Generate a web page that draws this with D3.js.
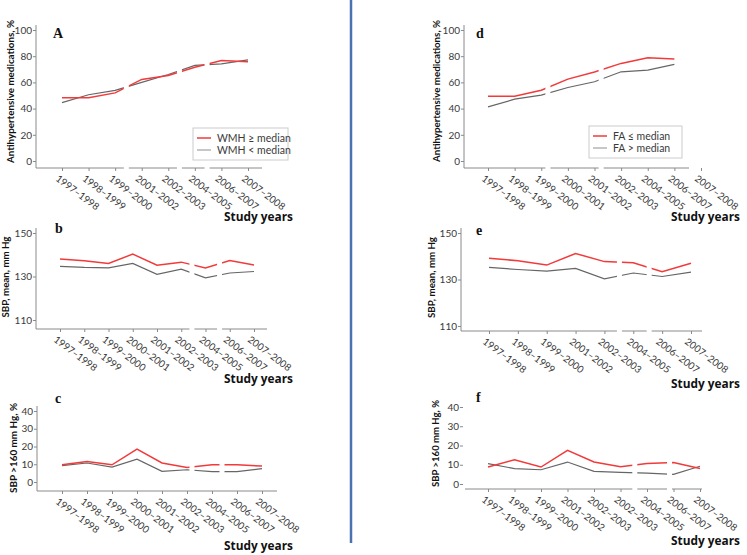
<!DOCTYPE html>
<html><head><meta charset="utf-8">
<script src="https://cdn.jsdelivr.net/npm/d3@7/dist/d3.min.js"></script>
<style>body{margin:0;background:#fff}svg{display:block}</style>
</head><body>
<svg id="chart" width="747" height="555"></svg>
<script>
// ---------- DATA ----------
const catsA = ["1997–1998","1998–1999","1999–2000","2001–2002","2002–2003","2004–2005","2006–2007","2007–2008"];
const wmhHighMeds = [48.2, 48.2, 52.0, 62.3, 65.3, 71.6, 76.7, 75.7];
const wmhLowMeds  = [44.6, 50.6, 53.9, 60.0, 66.0, 73.0, 74.2, 77.2];

const catsB = ["1997–1998","1998–1999","1999–2000","2000–2001","2001–2002","2002–2003","2004–2005","2006–2007","2007–2008"];
const wmhHighSbp = [138.0, 137.2, 136.0, 140.3, 135.2, 136.6, 133.9, 137.3, 135.3];
const wmhLowSbp  = [134.7, 134.2, 134.0, 136.0, 131.0, 133.4, 129.4, 131.6, 132.3];

const catsC = ["1997–1998","1998–1999","1999–2000","2000–2001","2001–2002","2002–2003","2004–2005","2006–2007","2007–2008"];
const wmhHighSbp160 = [9.7, 11.6, 9.7, 18.5, 10.7, 8.2, 9.7, 9.7, 9.0];
const wmhLowSbp160  = [9.2, 10.7, 8.4, 12.9, 6.0, 6.9, 5.8, 5.8, 7.5];

const catsD = ["1997–1998","1998–1999","1999–2000","2000–2001","2001–2002","2002–2003","2004–2005","2006–2007","2007–2008"];
const faLowMeds  = [49.5, 49.5, 54.0, 62.5, 68.0, 74.5, 78.8, 77.8, null];
const faHighMeds = [41.3, 47.2, 50.3, 56.1, 60.5, 68.1, 69.4, 73.7, null];

const catsE = ["1997–1998","1998–1999","1999–2000","2001–2002","2002–2003","2004–2005","2006–2007","2007–2008"];
const faLowSbp  = [139.1, 138.1, 136.2, 141.2, 137.7, 137.2, 133.3, 137.0];
const faHighSbp = [135.2, 134.3, 133.6, 134.8, 130.3, 132.8, 131.3, 133.2];

const catsF = ["1997–1998","1998–1999","1999–2000","2001–2002","2002–2003","2002–2003","2004–2005","2006–2007","2007–2008"];
const faLowSbp160  = [8.8, 12.6, 8.8, 17.5, 11.4, 9.0, 10.7, 11.2, 8.0];
const faHighSbp160 = [10.6, 8.0, 7.4, 11.4, 6.6, 6.0, 5.7, 5.0, 9.2];

const medTicks = [0, 20, 40, 60, 80, 100];
const sbpTicks = [110, 130, 150];
const sbp160Ticks = [0, 10, 20, 30, 40];

const yLabelMeds = "Antihypertensive medications, %";
const yLabelSbp = "SBP, mean, mm Hg";
const yLabelSbp160 = "SBP >160 mm Hg, %";
const xTitle = "Study years";
const legendWmh = ["WMH ≥ median", "WMH  < median"];
const legendFa = ["FA ≤ median", "FA > median"];

// ---------- LAYOUT ----------
const RED = "#f23a3a", GRAY = "#666666", AX = "#8a8a8a", TXT = "#3a3a3a";
const FONT = "Lato, 'Open Sans', sans-serif";

const panels = [
  {letter:"A", cats:catsA, red:wmhHighMeds, gray:wmhLowMeds, dom:[0,100], ticks:medTicks, yl:yLabelMeds,
   yTop:30, yBot:161, axisY:168, ax0:36, ax1:262, x0:62, x1:248, breaks:[[2,0.42],[4,0.42],[5,0.46]], axisGaps:true,
   lp:[53,38], ylp:[14,91.5,143], st:[293,221], yLine:true, legend:{names:legendWmh, x:193, y:128, w:95, h:32}},
  {letter:"b", cats:catsB, red:wmhHighSbp, gray:wmhLowSbp, dom:[110,150], ticks:sbpTicks, yl:yLabelSbp,
   yTop:233, yBot:320, axisY:329, ax0:36, ax1:267, x0:60, x1:254, breaks:[[5,0.44],[6,0.58]], axisGaps:true,
   lp:[55,233], ylp:[9,277,81], st:[293,383], yLine:true},
  {letter:"c", cats:catsC, red:wmhHighSbp160, gray:wmhLowSbp160, dom:[0,40], ticks:sbp160Ticks, yl:yLabelSbp160,
   yTop:411, yBot:482, axisY:491, ax0:37, ax1:277, x0:62, x1:262, breaks:[[5,0.2],[6,0.4]], axisGaps:false,
   lp:[55,403], ylp:[17,448,90], st:[293,550], yLine:true},
  {letter:"d", cats:catsD, red:faLowMeds, gray:faHighMeds, dom:[0,100], ticks:medTicks, yl:yLabelMeds,
   yTop:30, yBot:161, axisY:168, ax0:464, ax1:689, x0:488, x1:701, breaks:[[2,0.25],[4,0.25]], axisGaps:true,
   lp:[476,38], ylp:[440,91,142], st:[740,221], yLine:true, legend:{names:legendFa, x:589, y:126, w:93, h:32}},
  {letter:"e", cats:catsE, red:faLowSbp, gray:faHighSbp, dom:[110,150], ticks:sbpTicks, yl:yLabelSbp,
   yTop:233, yBot:326, axisY:331, ax0:461, ax1:702, x0:489, x1:691, breaks:[[4,0.52],[5,0.55]], axisGaps:true,
   lp:[476,235], ylp:[435,277.5,81], st:[740,388], yLine:true},
  {letter:"f", cats:catsF, red:faLowSbp160, gray:faHighSbp160, dom:[0,40], ticks:sbp160Ticks, yl:yLabelSbp160,
   yTop:407, yBot:484, axisY:489, ax0:465, ax1:702, x0:488, x1:700, breaks:[[5,0.54],[6,0.85]], axisGaps:true,
   lp:[476,402], ylp:[439,443.5,87], st:[740,545], yLine:false, yAxisX:463}
];

const svg = d3.select("#chart");

// divider
svg.append("line").attr("x1",351).attr("x2",351).attr("y1",0).attr("y2",543)
  .attr("stroke","#4a72b0").attr("stroke-width",2.5);

panels.forEach(p => {
  const g = svg.append("g");
  const n = p.cats.length;
  const x = d3.scaleLinear().domain([0, n-1]).range([p.x0, p.x1]);
  const y = d3.scaleLinear().domain(p.dom).range([p.yBot, p.yTop]);
  const yAxX = p.yAxisX ?? p.ax0;

  // x axis baseline
  g.append("line").attr("x1",p.ax0).attr("x2",p.ax1).attr("y1",p.axisY).attr("y2",p.axisY)
    .attr("stroke",AX).attr("stroke-width",1);
  // y axis line
  if (p.yLine) g.append("line").attr("x1",yAxX).attr("x2",yAxX).attr("y1",p.yTop-5).attr("y2",p.axisY)
    .attr("stroke",AX).attr("stroke-width",1);

  // y axis ticks
  const ya = g.append("g").attr("transform",`translate(${yAxX},0)`)
    .call(d3.axisLeft(y).tickValues(p.ticks).tickSize(3).tickPadding(1).tickFormat(d3.format("d")));
  ya.select(".domain").remove();
  ya.selectAll("line").attr("stroke",AX);
  ya.selectAll("text").attr("font-family",FONT).attr("font-size",10).attr("fill",TXT);

  // x axis ticks + labels
  const xa = g.append("g").attr("transform",`translate(0,${p.axisY})`)
    .call(d3.axisBottom(x).tickValues(d3.range(n)).tickSize(3).tickSizeOuter(0).tickFormat(i => p.cats[i]));
  xa.select(".domain").remove();
  xa.selectAll("line").attr("stroke",AX);
  xa.selectAll("text").attr("font-family",FONT).attr("font-size",9.8).attr("fill",TXT)
    .attr("text-anchor","start").attr("x",0).attr("y",0).attr("dy","0.75em")
    .attr("transform","translate(-3,6) rotate(37)");

  // lines
  const line = d3.line().defined(d => d != null).x((d,i) => x(i)).y(d => y(d));
  g.append("path").datum(p.gray).attr("d",line).attr("fill","none").attr("stroke",GRAY).attr("stroke-width",1.2);
  g.append("path").datum(p.red).attr("d",line).attr("fill","none").attr("stroke",RED).attr("stroke-width",1.5);

  // breaks
  p.breaks.forEach(([i,f]) => {
    const cx = x(i) + f*(x(i+1)-x(i));
    const bottom = p.axisGaps ? p.axisY + 1.5 : p.axisY - 1;
    g.append("rect").attr("x",cx-2.5).attr("width",5).attr("y",p.yTop-4).attr("height",bottom-(p.yTop-4))
      .attr("fill","#fff");
  });

  // panel letter
  g.append("text").attr("x",p.lp[0]).attr("y",p.lp[1]).text(p.letter)
    .attr("font-family","'Liberation Serif', 'DejaVu Serif', serif").attr("font-weight","bold")
    .attr("font-size",14).attr("fill","#111");

  // y label
  g.append("text").attr("transform",`translate(${p.ylp[0]},${p.ylp[1]}) rotate(-90)`)
    .attr("text-anchor","middle").attr("font-family",FONT).attr("font-weight","bold")
    .attr("font-size",p.ylp[2] > 120 ? 10 : 8.5).attr("fill","#111")
    .attr("textLength",p.ylp[2]).attr("lengthAdjust","spacingAndGlyphs").text(p.yl);

  // x title
  g.append("text").attr("x",p.st[0]).attr("y",p.st[1]).attr("text-anchor","end")
    .attr("font-family","'Open Sans', Lato, sans-serif").attr("font-weight","bold").attr("font-size",13)
    .attr("fill","#111").attr("textLength",69).attr("lengthAdjust","spacingAndGlyphs").text(xTitle);

  // legend
  if (p.legend) {
    const L = p.legend;
    const lg = g.append("g").attr("transform",`translate(${L.x},${L.y})`);
    lg.append("rect").attr("width",L.w).attr("height",L.h).attr("fill","#fff")
      .attr("stroke","#cccccc").attr("stroke-width",1);
    [[RED,1.5],["#b5b5b5",1.5]].forEach(([c,w],k) => {
      const yy = 10 + k*12;
      lg.append("line").attr("x1",4).attr("x2",18).attr("y1",yy).attr("y2",yy).attr("stroke",c).attr("stroke-width",w);
      lg.append("text").attr("x",24).attr("y",yy+3.5).attr("font-family",FONT).attr("font-size",10.5)
        .attr("fill",TXT).text(L.names[k]);
    });
  }
});
</script>
</body></html>
